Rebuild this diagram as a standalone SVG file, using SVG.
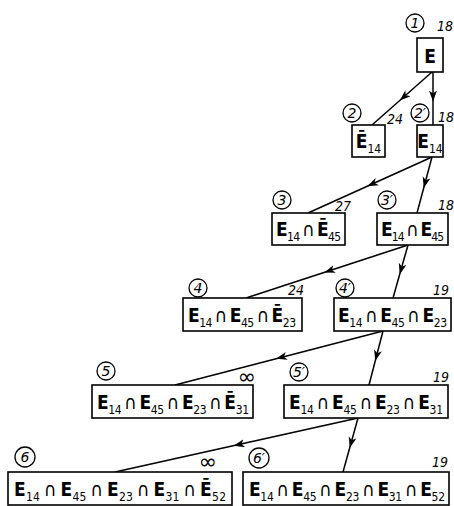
<svg xmlns="http://www.w3.org/2000/svg" width="454" height="506" viewBox="0 0 454 506">
<style>
.box{fill:#fff;stroke:#000;stroke-width:1.6}
.circ{fill:none;stroke:#000;stroke-width:1.3}
.edge{fill:none;stroke:#000;stroke-width:1.5}
.lbl{font-family:"DejaVu Sans Condensed","DejaVu Sans",sans-serif;font-size:19px;font-weight:bold;fill:#000}
.sub{font-size:12px;font-weight:normal}
.cap{font-weight:normal}
.num{font-family:"DejaVu Sans","Liberation Sans",sans-serif;font-style:italic;font-size:14px;fill:#000}
.w{font-family:"DejaVu Sans Condensed","DejaVu Sans",sans-serif;font-style:italic;font-size:14px;fill:#000}
.inf{font-family:"DejaVu Sans",sans-serif;font-size:22px;fill:#000}
</style>
<defs>
<marker id="ah" markerUnits="userSpaceOnUse" markerWidth="13" markerHeight="9" refX="8" refY="4" orient="auto">
<path d="M0,0 L11,4 L0,8 L3,4 Z" fill="#000"/>
</marker>
</defs>
<g id="connectors">
<path class="edge" marker-mid="url(#ah)" d="M432,72 L402,98.5 L372,125"/>
<path class="edge" marker-mid="url(#ah)" d="M433,72 L433,98.5 L433,125"/>
<path class="edge" marker-mid="url(#ah)" d="M432,157 L370,185 L308,213"/>
<path class="edge" marker-mid="url(#ah)" d="M432,157 L424.5,185 L417,213"/>
<path class="edge" marker-mid="url(#ah)" d="M408,245 L327,271.5 L246,298"/>
<path class="edge" marker-mid="url(#ah)" d="M408,245 L400.5,271.5 L393,298"/>
<path class="edge" marker-mid="url(#ah)" d="M383,331 L279,358 L175,385"/>
<path class="edge" marker-mid="url(#ah)" d="M383,331 L376,358 L369,385"/>
<path class="edge" marker-mid="url(#ah)" d="M358,418 L236.5,445 L115,472"/>
<path class="edge" marker-mid="url(#ah)" d="M358,418 L350.5,445 L343,472"/>
</g>
<g id="n1">
<circle class="circ" cx="415" cy="23" r="9"/>
<text class="num" x="415" y="28" text-anchor="middle">1</text>
<text class="w" x="437" y="31">18</text>
<rect class="box" x="417" y="38" width="26" height="34"/>
<text class="lbl" x="430" y="63" text-anchor="middle" font-size="21">E</text>
</g>
<g id="n2">
<circle class="circ" cx="352" cy="113" r="9"/>
<text class="num" x="352" y="118" text-anchor="middle">2</text>
<text class="w" x="387" y="124">24</text>
<rect class="box" x="352" y="125" width="33" height="32"/>
<text class="lbl" x="368.5" y="148" text-anchor="middle">Ē<tspan class="sub" dy="5">14</tspan></text>
</g>
<g id="n2p">
<circle class="circ" cx="420" cy="113" r="9"/>
<text class="num" x="420" y="118" text-anchor="middle">2′</text>
<text class="w" x="438" y="122">18</text>
<rect class="box" x="417" y="125" width="26" height="32"/>
<text class="lbl" x="430" y="148" text-anchor="middle">E<tspan class="sub" dy="5">14</tspan></text>
</g>
<g id="n3">
<circle class="circ" cx="282" cy="200" r="9"/>
<text class="num" x="282" y="205" text-anchor="middle">3</text>
<text class="w" x="335" y="211">27</text>
<rect class="box" x="272" y="213" width="73" height="32"/>
<text class="lbl" x="308.5" y="236" text-anchor="middle" textLength="65" lengthAdjust="spacing">E<tspan class="sub" dy="5">14</tspan><tspan class="sub" dy="-5"> </tspan><tspan class="cap">∩</tspan><tspan class="sub"> </tspan>Ē<tspan class="sub" dy="5">45</tspan></text>
</g>
<g id="n3p">
<circle class="circ" cx="387" cy="200" r="9"/>
<text class="num" x="387" y="205" text-anchor="middle">3′</text>
<text class="w" x="438" y="210">18</text>
<rect class="box" x="377" y="213" width="71" height="32"/>
<text class="lbl" x="412.5" y="236" text-anchor="middle" textLength="63" lengthAdjust="spacing">E<tspan class="sub" dy="5">14</tspan><tspan class="sub" dy="-5"> </tspan><tspan class="cap">∩</tspan><tspan class="sub"> </tspan>E<tspan class="sub" dy="5">45</tspan></text>
</g>
<g id="n4">
<circle class="circ" cx="198" cy="288" r="9"/>
<text class="num" x="198" y="293" text-anchor="middle">4</text>
<text class="w" x="288" y="295">24</text>
<rect class="box" x="183" y="298" width="119" height="33"/>
<text class="lbl" x="242" y="322" text-anchor="middle" textLength="108" lengthAdjust="spacing">E<tspan class="sub" dy="5">14</tspan><tspan class="sub" dy="-5"> </tspan><tspan class="cap">∩</tspan><tspan class="sub"> </tspan>E<tspan class="sub" dy="5">45</tspan><tspan class="sub" dy="-5"> </tspan><tspan class="cap">∩</tspan><tspan class="sub"> </tspan>Ē<tspan class="sub" dy="5">23</tspan></text>
</g>
<g id="n4p">
<circle class="circ" cx="345" cy="288" r="9"/>
<text class="num" x="345" y="293" text-anchor="middle">4′</text>
<text class="w" x="433" y="295">19</text>
<rect class="box" x="334" y="298" width="117" height="33"/>
<text class="lbl" x="392.5" y="322" text-anchor="middle" textLength="109" lengthAdjust="spacing">E<tspan class="sub" dy="5">14</tspan><tspan class="sub" dy="-5"> </tspan><tspan class="cap">∩</tspan><tspan class="sub"> </tspan>E<tspan class="sub" dy="5">45</tspan><tspan class="sub" dy="-5"> </tspan><tspan class="cap">∩</tspan><tspan class="sub"> </tspan>E<tspan class="sub" dy="5">23</tspan></text>
</g>
<g id="n5">
<circle class="circ" cx="106" cy="371" r="9"/>
<text class="num" x="106" y="376" text-anchor="middle">5</text>
<text class="inf" x="247" y="384" text-anchor="middle">∞</text>
<rect class="box" x="92" y="385" width="161" height="33"/>
<text class="lbl" x="173" y="409" text-anchor="middle" textLength="152" lengthAdjust="spacing">E<tspan class="sub" dy="5">14</tspan><tspan class="sub" dy="-5"> </tspan><tspan class="cap">∩</tspan><tspan class="sub"> </tspan>E<tspan class="sub" dy="5">45</tspan><tspan class="sub" dy="-5"> </tspan><tspan class="cap">∩</tspan><tspan class="sub"> </tspan>E<tspan class="sub" dy="5">23</tspan><tspan class="sub" dy="-5"> </tspan><tspan class="cap">∩</tspan><tspan class="sub"> </tspan>Ē<tspan class="sub" dy="5">31</tspan></text>
</g>
<g id="n5p">
<circle class="circ" cx="299" cy="372" r="9"/>
<text class="num" x="299" y="377" text-anchor="middle">5′</text>
<text class="w" x="433" y="382">19</text>
<rect class="box" x="284" y="385" width="164" height="33"/>
<text class="lbl" x="366" y="409" text-anchor="middle" textLength="154" lengthAdjust="spacing">E<tspan class="sub" dy="5">14</tspan><tspan class="sub" dy="-5"> </tspan><tspan class="cap">∩</tspan><tspan class="sub"> </tspan>E<tspan class="sub" dy="5">45</tspan><tspan class="sub" dy="-5"> </tspan><tspan class="cap">∩</tspan><tspan class="sub"> </tspan>E<tspan class="sub" dy="5">23</tspan><tspan class="sub" dy="-5"> </tspan><tspan class="cap">∩</tspan><tspan class="sub"> </tspan>E<tspan class="sub" dy="5">31</tspan></text>
</g>
<g id="n6">
<circle class="circ" cx="25" cy="457" r="10"/>
<text class="num" x="25" y="462" text-anchor="middle">6</text>
<text class="inf" x="208" y="469" text-anchor="middle">∞</text>
<rect class="box" x="8" y="472" width="224" height="33"/>
<text class="lbl" x="120" y="496" text-anchor="middle" textLength="212" lengthAdjust="spacing">E<tspan class="sub" dy="5">14</tspan><tspan class="sub" dy="-5"> </tspan><tspan class="cap">∩</tspan><tspan class="sub"> </tspan>E<tspan class="sub" dy="5">45</tspan><tspan class="sub" dy="-5"> </tspan><tspan class="cap">∩</tspan><tspan class="sub"> </tspan>E<tspan class="sub" dy="5">23</tspan><tspan class="sub" dy="-5"> </tspan><tspan class="cap">∩</tspan><tspan class="sub"> </tspan>E<tspan class="sub" dy="5">31</tspan><tspan class="sub" dy="-5"> </tspan><tspan class="cap">∩</tspan><tspan class="sub"> </tspan>Ē<tspan class="sub" dy="5">52</tspan></text>
</g>
<g id="n6p">
<circle class="circ" cx="259" cy="458" r="10"/>
<text class="num" x="259" y="463" text-anchor="middle">6′</text>
<text class="w" x="432" y="467">19</text>
<rect class="box" x="243" y="472" width="206" height="33"/>
<text class="lbl" x="347" y="496" text-anchor="middle" textLength="196" lengthAdjust="spacing">E<tspan class="sub" dy="5">14</tspan><tspan class="sub" dy="-5"> </tspan><tspan class="cap">∩</tspan><tspan class="sub"> </tspan>E<tspan class="sub" dy="5">45</tspan><tspan class="sub" dy="-5"> </tspan><tspan class="cap">∩</tspan><tspan class="sub"> </tspan>E<tspan class="sub" dy="5">23</tspan><tspan class="sub" dy="-5"> </tspan><tspan class="cap">∩</tspan><tspan class="sub"> </tspan>E<tspan class="sub" dy="5">31</tspan><tspan class="sub" dy="-5"> </tspan><tspan class="cap">∩</tspan><tspan class="sub"> </tspan>E<tspan class="sub" dy="5">52</tspan></text>
</g>
</svg>
